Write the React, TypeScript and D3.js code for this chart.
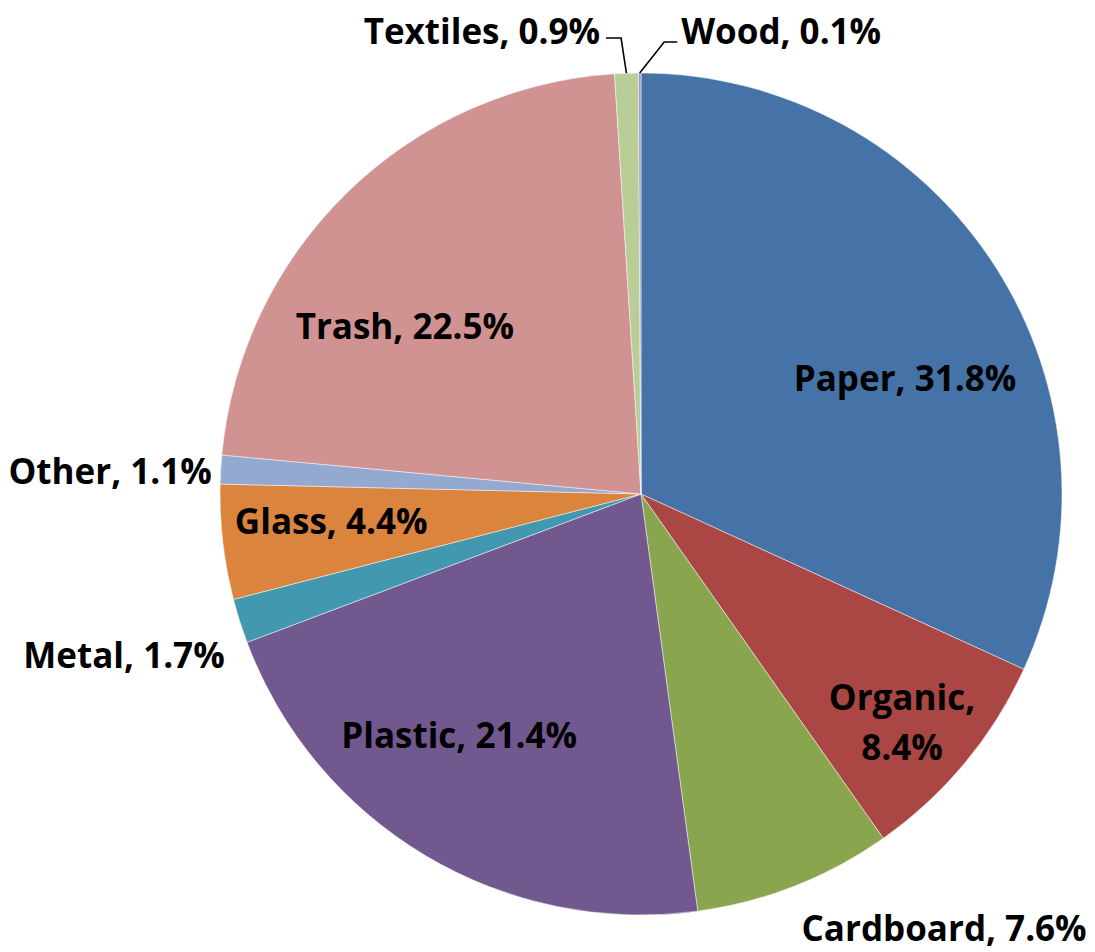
import { useEffect, useRef } from "react";
import * as d3 from "d3";

const categories = ["Paper", "Organic", "Cardboard", "Plastic", "Metal", "Glass", "Other", "Trash", "Textiles", "Wood"];
const shares = [31.8, 8.4, 7.6, 21.4, 1.7, 4.4, 1.1, 22.5, 0.9, 0.1];
const colors = ["#4572A7", "#AA4643", "#89A54E", "#71588F", "#4198AF", "#DB843D", "#93A9CF", "#D19392", "#B9CD96", "#A99BBD"];

// label centres, as fractions of the radius from the pie centre
const labelOffsets: [number, number][] = [
  [0.627, -0.276],
  [0.62, 0.539],
  [0.72, 1.029],
  [-0.432, 0.572],
  [-1.228, 0.382],
  [-0.736, 0.062],
  [-1.261, -0.057],
  [-0.561, -0.401],
  [-0.378, -1.102],
  [0.333, -1.102],
];
// labels that need a leader line
const leaders = ["Textiles", "Wood"];

export default function App() {
  const ref = useRef<SVGSVGElement>(null);

  useEffect(() => {
    document.body.style.margin = "0";
    if (!ref.current) return;
    const svg = d3.select(ref.current);
    svg.selectAll("*").remove();

    const width = 1095;
    const height = 952;
    const cx = 641;
    const cy = 494;
    const r = 421;

    const data = categories.map((c, i) => ({ name: c, value: shares[i], color: colors[i], i }));

    const pie = d3.pie<typeof data[number]>().sort(null).value((d) => d.value);
    const arcs = pie(data);
    const arc = d3.arc<d3.PieArcDatum<typeof data[number]>>().innerRadius(0).outerRadius(r);
    const edge = d3.arc<d3.PieArcDatum<typeof data[number]>>().innerRadius(r).outerRadius(r);

    svg.attr("width", width).attr("height", height).attr("viewBox", `0 0 ${width} ${height}`);

    const g = svg.append("g").attr("transform", `translate(${cx},${cy})`);

    g.selectAll("path.slice")
      .data(arcs)
      .join("path")
      .attr("class", "slice")
      .attr("d", arc)
      .attr("fill", (d) => d.data.color)
      .attr("stroke", "#ffffff")
      .attr("stroke-opacity", 0.6)
      .attr("stroke-width", 0.8);

    const fmt = (d: typeof data[number]) => `${d.name}, ${d.value.toFixed(1)}%`;

    arcs.forEach((a) => {
      const [ox, oy] = labelOffsets[a.data.i];
      const lx = ox * r;
      const ly = oy * r;
      const text = g
        .append("text")
        .attr("x", lx)
        .attr("y", ly)
        .attr("text-anchor", "middle")
        .attr("dominant-baseline", "central")
        .style("font-family", "'Open Sans', Lato, sans-serif")
        .style("font-weight", "bold")
        .style("font-size", "35px")
        .attr("fill", "#000");

      if (a.data.name === "Organic") {
        text.append("tspan").attr("x", lx).attr("dy", "-0.72em").text(`${a.data.name},`);
        text.append("tspan").attr("x", lx).attr("dy", "1.44em").text(`${a.data.value.toFixed(1)}%`);
      } else {
        text.text(fmt(a.data));
      }

      if (leaders.includes(a.data.name)) {
        const [ex, ey] = edge.centroid(a);
        const bb = (text.node() as SVGTextElement).getBBox();
        const left = lx < 0;
        const endX = left ? bb.x + bb.width + 6 : bb.x - 4;
        const elbowX = left ? endX + 15 : endX - 13;
        const elbowY = ly + (left ? 8 : 12);
        g.append("path")
          .attr("d", `M${ex},${ey}L${elbowX},${elbowY}L${endX},${elbowY}`)
          .attr("fill", "none")
          .attr("stroke", "#000")
          .attr("stroke-width", 1.6);
      }
    });
  }, []);

  return <svg ref={ref} style={{ display: "block" }}></svg>;
}
